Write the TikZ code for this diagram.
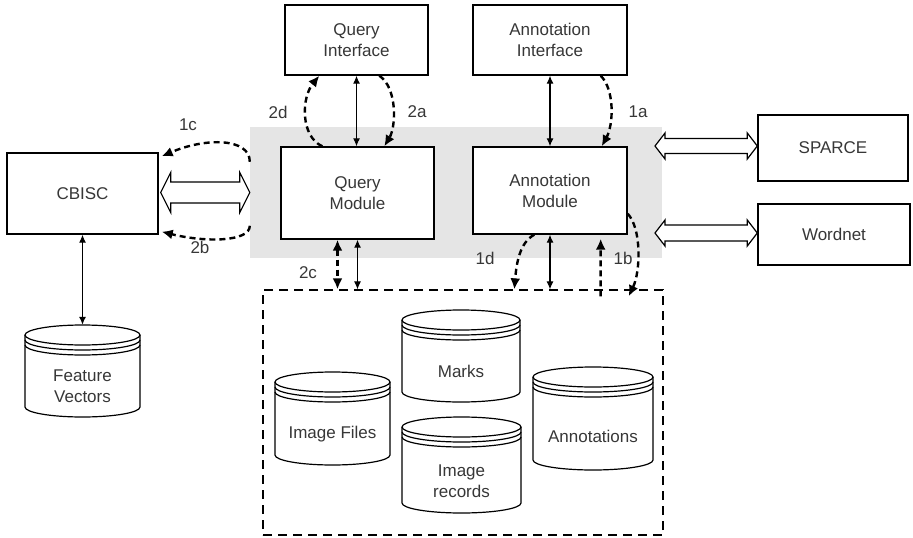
\documentclass[tikz,border=0pt]{standalone}
\usepackage{fontspec}
\setmainfont{Liberation Sans}
\usetikzlibrary{arrows.meta,calc}
\definecolor{txt}{RGB}{55,55,55}
\definecolor{graybg}{RGB}{229,229,229}
\tikzset{
  box/.style={draw, line width=1.4pt, fill=white, text=txt, align=center,
    font=\fontsize{17}{21}\selectfont, inner sep=0pt},
  lbl/.style={text=txt, align=center, font=\fontsize{17}{21}\selectfont, inner sep=0pt},
  solidarr/.style={line width=1.1pt, {Latex[length=8pt,width=7pt]}-{Latex[length=8pt,width=7pt]}},
  dasharr/.style={line width=2.4pt, dash pattern=on 6pt off 4pt, -{Latex[length=11pt,width=10pt]}},
  dashboth/.style={line width=2.4pt, dash pattern=on 6pt off 4pt, {Latex[length=11pt,width=10pt]}-{Latex[length=11pt,width=10pt]}},
  hollowst/.style={draw, line width=1.2pt, fill=white},
  cylline/.style={line width=1.2pt},
  storebox/.style={draw, line width=1.3pt, dash pattern=on 9pt off 6pt, inner sep=0pt},
}
% horizontal hollow double arrow: #1 left point, #2 right point, #3 shaft half, #4 head half, #5 head length
\newcommand\hollowdouble[5]{%
  \path[hollowst] let \p1=#1, \p2=#2 in
    (\x1,\y1) -- (\x1+#5pt,\y1+#4pt) -- (\x1+#5pt,\y1+#3pt) -- (\x2-#5pt,\y1+#3pt)
    -- (\x2-#5pt,\y1+#4pt) -- (\x2,\y1) -- (\x2-#5pt,\y1-#4pt) -- (\x2-#5pt,\y1-#3pt)
    -- (\x1+#5pt,\y1-#3pt) -- (\x1+#5pt,\y1-#4pt) -- cycle;}
% cylinder: #1 name, #2 x1, #3 x2, #4 ytop, #5 ybot, #6 text
\newcommand\dbcyl[6]{%
  \pgfmathsetmacro\cylcx{(#2+#3)/2}%
  \pgfmathsetmacro\cylrx{(#3-#2)/2}%
  \pgfmathsetmacro\cylcy{(#4+#5)/2}%
  \pgfmathsetmacro\cylh{#5-#4}%
  \pgfmathsetmacro\cylw{#3-#2}%
  \node[inner sep=0pt, minimum width=\cylw pt, minimum height=\cylh pt] (#1) at (\cylcx,\cylcy) {};
  \fill[white] (#2,#4+10) -- (#2,#5-10) arc[start angle=180,end angle=360,x radius=\cylrx pt,y radius=10pt]
     -- (#3,#4+10) arc[start angle=0,end angle=180,x radius=\cylrx pt,y radius=10pt] -- cycle;
  \draw[cylline] (#2,#4+10) -- (#2,#5-10) arc[start angle=180,end angle=360,x radius=\cylrx pt,y radius=10pt] -- (#3,#4+10);
  \draw[cylline] (\cylcx,#4+10) ellipse[x radius=\cylrx pt, y radius=10pt];
  \draw[cylline] (#2,#4+15) arc[start angle=180,end angle=360,x radius=\cylrx pt,y radius=10pt];
  \draw[cylline] (#2,#4+20) arc[start angle=180,end angle=360,x radius=\cylrx pt,y radius=10pt];
  \node[lbl] (#1t) at (\cylcx,{#4+0.67*(#5-#4)}) {#6};
}
\begin{document}
\begin{tikzpicture}[x=1pt,y=-1pt]
\useasboundingbox (0,0) rectangle (913,538);

% grey core region and store box
\node[fill=graybg, inner sep=0pt, minimum width=412pt, minimum height=131pt] (core) at (456,192.5) {};
\node[storebox, minimum width=400pt, minimum height=245pt] (store) at (463,412.5) {};

% boxes
\node[box, minimum width=151pt, minimum height=81pt] (cbisc) at (82.5,193.5) {CBISC};
\node[box, minimum width=143pt, minimum height=70pt] (qi) at (356.5,40) {Query\\Interface};
\node[box, minimum width=154pt, minimum height=70pt] (ai) at (550,40) {Annotation\\Interface};
\node[box, minimum width=153pt, minimum height=92pt] (qm) at (357.5,193) {Query\\Module};
\node[box, minimum width=154pt, minimum height=87pt] (am) at (550,190.5) {Annotation\\Module};
\node[box, minimum width=150pt, minimum height=66pt] (sparce) at (833,148) {SPARCE};
\node[box, minimum width=152pt, minimum height=61pt] (wordnet) at (834,234.5) {Wordnet};

% cylinders
\dbcyl{fv}{25}{140}{325}{417}{Feature\\Vectors}
\dbcyl{imgf}{275}{390}{372}{465}{Image Files}
\dbcyl{marks}{402}{520}{310}{402}{Marks}
\dbcyl{imgr}{402}{521}{417}{513}{Image\\records}
\dbcyl{annot}{533}{653}{367}{470}{Annotations}

% hollow double arrows
\coordinate (sl) at (655,146);
\coordinate (wl) at (655,233);
\hollowdouble{($(cbisc.east)+(2,-1)$)}{($(core.west |- cbisc.east)+(0,-1)$)}{10.5}{20}{10}
\hollowdouble{(sl)}{($(sparce.west)+(0,-2)$)}{7.5}{13}{10}
\hollowdouble{(wl)}{($(wordnet.west)+(0,-1.5)$)}{8}{13}{10}

% solid connectors
\draw[solidarr] (cbisc.south) -- (fv.north);
\draw[solidarr] (qi.south) -- (qi.south |- qm.north);
\draw[solidarr] (ai.south) -- (ai.south |- am.north);
\draw[solidarr] (qm.south) -- (qm.south |- store.north);
\draw[solidarr] (am.south) -- (am.south |- store.north);

% dashed flows
\draw[dashboth] ($(qm.south)+(-20,0)$) -- ($(qm.south |- store.north)+(-20,0)$);
\draw[dasharr] ($(qm.north west)+(42,0)$) .. controls +(-22,-10) and +(-18,22) .. ($(qi.south west)+(35,0)$);
\draw[dasharr] ($(qi.south west)+(95,0)$) .. controls +(18,12) and +(12,-20) .. ($(qm.north west)+(104,0)$);
\draw[dasharr] ($(ai.south east)+(-27,0)$) .. controls +(14,14) and +(12,-22) .. ($(am.north east)+(-26,0)$);
\draw[dasharr] ($(core.north west)+(0,35)$) .. controls +(0,-24) and +(44,-19) .. ($(cbisc.north east)+(3,4)$);
\draw[dasharr] ($(core.north west)+(0,99)$) .. controls +(0,16) and +(44,11) .. ($(cbisc.south east)+(3,-3)$);
\draw[dasharr] ($(am.south west)+(62,0)$) .. controls +(-15,8) and +(2,-25) .. ($(store.north west)+(252,0)$);
\draw[dasharr] ($(store.north east)+(-63,7)$) -- ($(am.south east)+(-27,4)$);
\draw[dasharr] ($(am.south east)+(0,-21)$) .. controls +(14,15) and +(12,-25) .. ($(store.north east)+(-35,7)$);

% labels
\node[lbl] (l1c) at (188,125) {1c};
\node[lbl] (l2b) at (200,247) {2b};
\node[lbl] (l2d) at (278,112) {2d};
\node[lbl] (l2a) at (417,112) {2a};
\node[lbl] (l1a) at (638,112) {1a};
\node[lbl] (l2c) at (308,273) {2c};
\node[lbl] (l1d) at (485,258) {1d};
\node[lbl] (l1b) at (623,258) {1b};
\end{tikzpicture}
\end{document}
